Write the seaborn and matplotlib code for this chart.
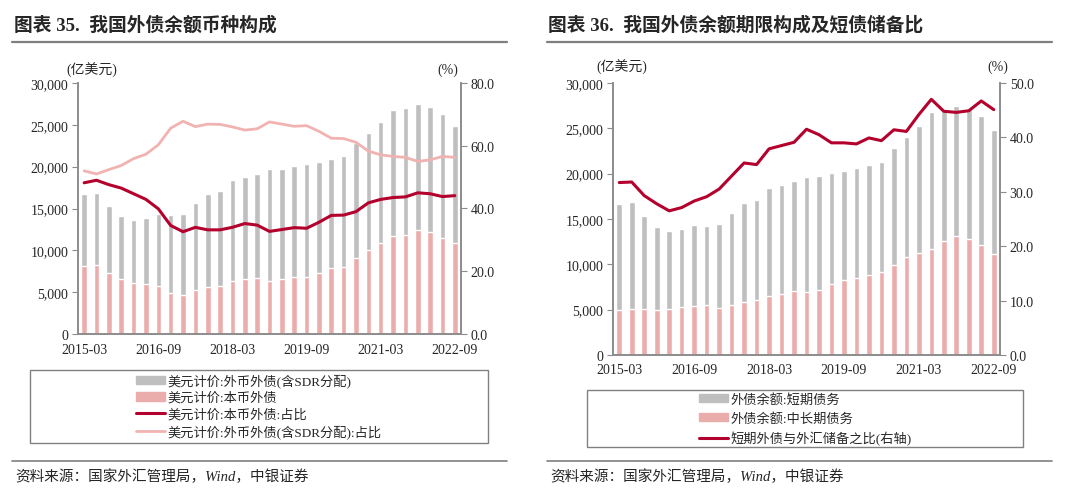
import numpy as np
import matplotlib.pyplot as plt
import seaborn as sns
from matplotlib.patches import Patch, Rectangle
from matplotlib.lines import Line2D
from matplotlib.ticker import FuncFormatter

sns.set_style("white")
plt.rcParams['font.family'] = ['Liberation Serif', 'Noto Sans CJK SC', 'DejaVu Sans']
plt.rcParams['axes.unicode_minus'] = False

quarters = [f"{y}-{m:02d}" for y in range(2015, 2023) for m in (3, 6, 9, 12)][:31]
tick_idx = [0, 6, 12, 18, 24, 30]

# 外债余额合计 (亿美元)
total_debt = [16700, 16830, 15320, 14160, 13640, 13880, 14320, 14240, 14400, 15640,
              16790, 17110, 18430, 18710, 19150, 19670, 19740, 20020, 20300, 20580,
              20940, 21300, 22780, 24010, 25290, 26810, 26960, 27480, 27080, 26330, 24850]
# 本币外债 (亿美元)
local_ccy = [8100, 8220, 7260, 6620, 6060, 5940, 5700, 4870, 4670, 5310,
             5620, 5700, 6300, 6580, 6660, 6380, 6620, 6780, 6860, 7340,
             7900, 8060, 9050, 10050, 10850, 11690, 11810, 12410, 12170, 11530, 10890]
# 占比 (%)
local_share = [48.2, 49.0, 47.6, 46.5, 44.7, 42.9, 39.9, 34.6, 32.6, 34.0,
               33.2, 33.2, 34.0, 35.2, 34.7, 32.7, 33.3, 33.9, 33.7, 35.6,
               37.8, 37.9, 39.0, 41.8, 42.9, 43.5, 43.7, 45.0, 44.7, 43.8, 44.1]
foreign_share = [52.0, 51.0, 52.4, 53.7, 55.9, 57.3, 60.3, 65.6, 67.8, 66.1,
                 66.9, 66.8, 66.0, 65.0, 65.4, 67.6, 66.9, 66.2, 66.4, 64.6,
                 62.4, 62.3, 61.1, 58.3, 57.1, 56.6, 56.3, 55.0, 55.5, 56.6, 56.3]
# 中长期债务 (亿美元)
long_term = [4930, 5120, 5120, 4930, 5120, 5300, 5370, 5520, 5230, 5560,
             5890, 6110, 6550, 6770, 7100, 6920, 7180, 7840, 8280, 8540,
             8830, 9130, 9970, 10860, 11300, 11740, 12620, 13070, 12810, 12110, 11190]
# 短期外债与外汇储备之比 (%)
st_reserve_ratio = [31.7, 31.8, 29.3, 27.8, 26.5, 27.1, 28.3, 29.1, 30.5, 32.9,
                    35.3, 35.0, 37.9, 38.5, 39.1, 41.5, 40.5, 39.0, 39.0, 38.8,
                    39.9, 39.4, 41.4, 41.1, 44.2, 47.0, 44.8, 44.6, 44.9, 46.7, 45.1]

GRAY = '#bfbfbf'
PINK = '#ebadac'
DARK = '#b3002d'
LIGHT = '#f1b3b1'
SPINE = '#8c8c8c'

fig = plt.figure(figsize=(10.8, 5.02), dpi=100)
W, H = 1080, 502


def fx(px):
    return px / W


def fy(py):
    return 1 - py / H


def style_axes(ax, ax2, ymax_r, xpad):
    for a in (ax, ax2):
        a.spines['top'].set_visible(False)
        for s in ('left', 'right', 'bottom'):
            a.spines[s].set_color(SPINE)
            a.spines[s].set_linewidth(1.2)
    ax.set_xlim(-0.5, 30.5)
    ax.set_ylim(0, 30000)
    ax.set_yticks(np.arange(0, 30001, 5000))
    ax.yaxis.set_major_formatter(FuncFormatter(lambda v, p: f"{int(v):,}"))
    ax2.set_ylim(0, ymax_r)
    ax2.yaxis.set_major_formatter(FuncFormatter(lambda v, p: f"{v:.1f}"))
    ax.set_xticks(tick_idx)
    ax.set_xticklabels([quarters[i] for i in tick_idx])
    ax.tick_params(axis='x', length=0, labelsize=10, pad=xpad)
    ax.tick_params(axis='y', direction='out', length=4, color=SPINE, labelsize=10,
                   left=True, pad=3)
    ax2.tick_params(axis='y', direction='out', length=4, color=SPINE, labelsize=10,
                    right=True, pad=3)
    ax.set_xlabel('')
    ax.set_ylabel('')
    ax2.set_xlabel('')
    ax2.set_ylabel('')
    ax.grid(False)
    ax2.grid(False)


x = np.arange(len(quarters))

# ---------------- left chart ----------------
ax1 = fig.add_axes([fx(78), fy(335), fx(461) - fx(78), fy(84) - fy(335)])
sns.barplot(x=quarters, y=total_debt, color=GRAY, width=0.45, ax=ax1,
            saturation=1, errorbar=None)
sns.barplot(x=quarters, y=local_ccy, color=PINK, width=0.45, ax=ax1,
            saturation=1, errorbar=None)
ax1r = ax1.twinx()
sns.lineplot(x=x, y=foreign_share, color=LIGHT, lw=2.0, ax=ax1r)
sns.lineplot(x=x, y=local_share, color=DARK, lw=2.2, ax=ax1r)
ax1r.set_yticks(np.arange(0, 80.1, 20))
style_axes(ax1, ax1r, 80, 6.5)

fig.text(fx(92), fy(70), '(亿美元)', ha='center', va='center', fontsize=10)
fig.text(fx(448), fy(70), '(%)', ha='center', va='center', fontsize=10)

# ---------------- right chart ----------------
ax3 = fig.add_axes([fx(613), fy(356), fx(1000) - fx(613), fy(84) - fy(356)])
sns.barplot(x=quarters, y=total_debt, color=GRAY, width=0.45, ax=ax3,
            saturation=1, errorbar=None)
sns.barplot(x=quarters, y=long_term, color=PINK, width=0.45, ax=ax3,
            saturation=1, errorbar=None)
ax3r = ax3.twinx()
sns.lineplot(x=x, y=st_reserve_ratio, color=DARK, lw=2.2, ax=ax3r)
ax3r.set_yticks(np.arange(0, 50.1, 10))
style_axes(ax3, ax3r, 50, 5.5)

fig.text(fx(622), fy(67), '(亿美元)', ha='center', va='center', fontsize=10)
fig.text(fx(998), fy(67), '(%)', ha='center', va='center', fontsize=10)

# ---------------- titles & rules ----------------
fig.text(fx(14), fy(25), '图表 35.  我国外债余额币种构成', ha='left', va='center',
         fontsize=13.5, fontweight='bold')
fig.text(fx(548), fy(25), '图表 36.  我国外债余额期限构成及短债储备比', ha='left',
         va='center', fontsize=13.5, fontweight='bold')
for x0, x1 in ((12, 507), (547, 1052)):
    fig.add_artist(Line2D([fx(x0), fx(x1)], [fy(43), fy(43)], color='#7f7f7f', lw=1.6))
    fig.add_artist(Line2D([fx(x0), fx(x1)], [fy(462), fy(462)], color='#7f7f7f', lw=1.2))

src = '资料来源：国家外汇管理局，Wind，中银证券'
fig.text(fx(15), fy(477), src, ha='left', va='center', fontsize=10.5, style='italic')
fig.text(fx(550), fy(477), src, ha='left', va='center', fontsize=10.5, style='italic')

# ---------------- legends ----------------
fig.add_artist(Rectangle((fx(30), fy(444)), fx(488) - fx(30), fy(371) - fy(444),
                         fill=False, edgecolor='#808080', lw=1.0))
fig.add_artist(Rectangle((fx(587), fy(448)), fx(1023) - fx(587), fy(391) - fy(448),
                         fill=False, edgecolor='#808080', lw=1.0))

h_left = [Patch(color=GRAY), Patch(color=PINK),
          Line2D([], [], color=DARK, lw=2.2), Line2D([], [], color=LIGHT, lw=2.0)]
l_left = ['美元计价:外币外债(含SDR分配)', '美元计价:本币外债',
          '美元计价:本币外债:占比', '美元计价:外币外债(含SDR分配):占比']
fig.legend(h_left, l_left, loc='center', bbox_to_anchor=(fx(259), fy(407)),
           frameon=False, fontsize=9.5, labelspacing=0.3, handlelength=2.2,
           handleheight=0.6, handletextpad=0.2, borderpad=0)

h_right = [Patch(color=GRAY), Patch(color=PINK), Line2D([], [], color=DARK, lw=2.2)]
l_right = ['外债余额:短期债务', '外债余额:中长期债务', '短期外债与外汇储备之比(右轴)']
fig.legend(h_right, l_right, loc='center', bbox_to_anchor=(fx(805), fy(420)),
           frameon=False, fontsize=9.5, labelspacing=0.45, handlelength=2.2,
           handleheight=0.6, handletextpad=0.2, borderpad=0)

fig.savefig('out.png', dpi=100)
